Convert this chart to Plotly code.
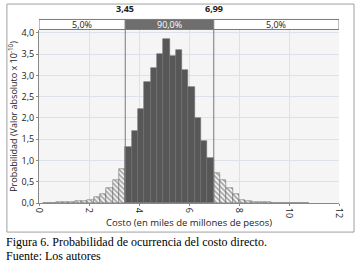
import plotly.graph_objects as go

# ---- data ----
cut_low = 3.45
cut_high = 6.99
band_labels = ["5,0%", "90,0%", "5,0%"]
bin_width = 0.2529
left_tail = [0.005, 0.01, 0.02, 0.02, 0.03, 0.05, 0.04, 0.08, 0.14, 0.21, 0.36, 0.53, 0.79]
middle = [1.32, 1.70, 2.22, 2.85, 3.18, 3.51, 3.85, 3.46, 3.59, 3.12, 2.73, 2.01, 1.46, 1.05]
right_tail = [0.71, 0.55, 0.36, 0.22, 0.07, 0.05, 0.03, 0.02, 0.02, 0.01, 0.01, 0.01, 0.01, 0.01, 0.005]
x_ticks = [0, 2, 4, 6, 8, 10, 12]
y_ticks = [0, 0.5, 1.0, 1.5, 2.0, 2.5, 3.0, 3.5, 4.0]
caption_lines = ["Figura 6. Probabilidad de ocurrencia del costo directo.", "Fuente: Los autores"]

# bin centres derived from the cut points
n_left = len(left_tail)
left_x = [cut_low - (n_left - i - 0.5) * bin_width for i in range(n_left)]
mid_x = [cut_low + (i + 0.5) * bin_width for i in range(len(middle))]
right_x = [cut_high + (i + 0.5) * bin_width for i in range(len(right_tail))]

FONT = "Open Sans"
fig = go.Figure()

hatch = dict(shape="\\", fgcolor="#444444", bgcolor="#ffffff", size=3.5, solidity=0.55)
fig.add_trace(go.Bar(x=left_x, y=left_tail, width=bin_width,
                     marker=dict(color="#ffffff", pattern=hatch, line=dict(color="#5a5a5a", width=0.5))))
fig.add_trace(go.Bar(x=right_x, y=right_tail, width=bin_width,
                     marker=dict(color="#ffffff", pattern=hatch, line=dict(color="#5a5a5a", width=0.5))))
fig.add_trace(go.Bar(x=mid_x, y=middle, width=bin_width,
                     marker=dict(color="#575757", line=dict(color="#6e6e6e", width=0.6))))

# triangles on top of the cut lines
fig.add_trace(go.Scatter(x=[cut_low, cut_high], y=[4.33, 4.33], mode="markers",
                         marker=dict(symbol="triangle-down", size=7, color="#555555"),
                         cliponaxis=False, hoverinfo="skip"))

shapes = []
# band above plot
y0b, y1b = 1.003, 1.061
segs = [(0, cut_low, "#ffffff"), (cut_low, cut_high, "#6e6e6e"), (cut_high, 12, "#ffffff")]
for (a, b, c) in segs:
    shapes.append(dict(type="rect", xref="x", yref="paper", x0=a, x1=b, y0=y0b, y1=y1b,
                       fillcolor=c, line=dict(color="#7a7a7a", width=1), layer="below"))
# cut lines
for c in (cut_low, cut_high):
    shapes.append(dict(type="line", xref="x", yref="paper", x0=c, x1=c, y0=0, y1=y0b,
                       line=dict(color="#7a7a7a", width=1), layer="above"))
# outer frame
shapes.append(dict(type="rect", xref="paper", yref="paper", x0=-0.107, x1=1.05, y0=-0.168, y1=1.15,
                   line=dict(color="#a0a0a0", width=1), fillcolor="rgba(0,0,0,0)", layer="below"))

annotations = []
for (a, b, c), lab in zip(segs, band_labels):
    annotations.append(dict(x=(a + b) / 2, y=(y0b + y1b) / 2, xref="x", yref="paper", text=lab,
                            showarrow=False, yanchor="middle",
                            font=dict(family=FONT, size=9,
                                      color="#ffffff" if c != "#ffffff" else "#222222")))
for c in (cut_low, cut_high):
    annotations.append(dict(x=c, y=1.075, xref="x", yref="paper",
                            text=f"<b>{c:.2f}</b>".replace(".", ","),
                            showarrow=False, yanchor="bottom", font=dict(family=FONT, size=9, color="#222")))
for i, line in enumerate(caption_lines):
    annotations.append(dict(x=-0.118, y=-0.225 - i * 0.081, xref="paper", yref="paper",
                            xanchor="left", yanchor="middle", text=line, showarrow=False,
                            font=dict(family="Liberation Serif", size=12, color="#000")))

fig.update_layout(
    width=362, height=265,
    margin=dict(l=39, r=23, t=30, b=62),
    paper_bgcolor="#ffffff", plot_bgcolor="#f5f5f6",
    barmode="overlay", bargap=0, showlegend=False,
    separators=",.",
    shapes=shapes, annotations=annotations,
    font=dict(family=FONT, size=9, color="#222"),
)
fig.update_xaxes(range=[0, 12], tickvals=x_ticks, tickangle=90, showgrid=True, gridcolor="#dde2ea",
                 gridwidth=1, zeroline=False, showline=True, linecolor="#888", ticks="outside",
                 ticklen=2, tickcolor="#888", tickfont=dict(family=FONT, size=9), automargin=False,
                 title=dict(text="Costo (en miles de millones de pesos)", font=dict(family=FONT, size=9.5),
                            standoff=2))
fig.update_yaxes(range=[0, 4.07], tickvals=y_ticks, tickformat=".1f", showgrid=True, gridcolor="#dde2ea",
                 zeroline=False, showline=True, linecolor="#888", ticks="outside", ticklen=2,
                 tickcolor="#888", tickfont=dict(family=FONT, size=9), automargin=False,
                 title=dict(text="Probabilidad (Valor absoluto x 10<sup>-10</sup>)",
                            font=dict(family=FONT, size=9), standoff=2))

fig.write_html("out.html", config={"displayModeBar": False},
               post_script="document.body.style.margin='0';")
